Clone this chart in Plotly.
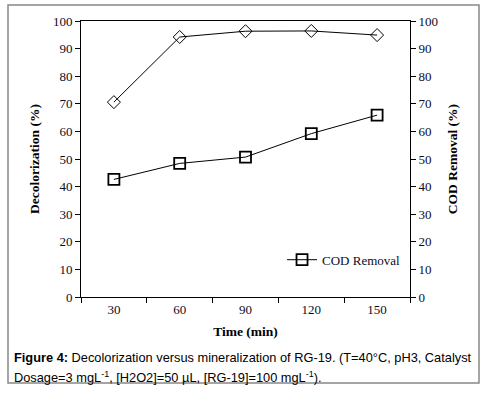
import plotly.graph_objects as go

times = ["30", "60", "90", "120", "150"]
decolorization = [70.6, 94.2, 96.3, 96.4, 94.9]
cod_removal = [42.6, 48.4, 50.7, 59.2, 65.9]
y_ticks = [0, 10, 20, 30, 40, 50, 60, 70, 80, 90, 100]

serif = "Liberation Serif, Times New Roman, serif"
ink = "#0c0c24"
tfont = dict(family=serif, size=13, color=ink)

fig = go.Figure()
fig.add_trace(go.Scatter(
    x=times, y=decolorization, mode="lines+markers", name="Decolorization",
    showlegend=False,
    line=dict(color="black", width=1),
    marker=dict(symbol="diamond-open", size=10, color="black", line=dict(width=1, color="black")),
))
fig.add_trace(go.Scatter(
    x=times, y=cod_removal, mode="lines+markers", name="COD Removal",
    line=dict(color="black", width=1),
    marker=dict(symbol="square-open", size=11, color="black", line=dict(width=1.8, color="black")),
    yaxis="y2",
))

fig.update_layout(
    width=492, height=393,
    margin=dict(l=81, r=82, t=21, b=96),
    paper_bgcolor="white", plot_bgcolor="white",
    font=tfont,
    showlegend=True,
    legend=dict(x=0.611, y=0.135, xanchor="left", yanchor="middle",
                bgcolor="rgba(0,0,0,0)", font=dict(size=13, family=serif, color=ink),
                itemwidth=30, tracegroupgap=0),
    xaxis=dict(type="category", range=[-0.5, 4.5], tickson="boundaries",
               ticks="outside", ticklen=5, tickcolor="black", tickwidth=1,
               showline=True, linecolor="black", linewidth=1, mirror=True,
               showgrid=False, zeroline=False,
               title=dict(text="<b>Time (min)</b>", standoff=10, font=dict(size=13.5, color="black")),
               tickfont=dict(size=13)),
    yaxis=dict(range=[0, 100], tickvals=y_ticks, ticks="outside", ticklen=5,
               tickcolor="black", showline=True, linecolor="black", linewidth=1,
               showgrid=False, zeroline=False,
               title=dict(text="<b>Decolorization (%)</b>", standoff=10, font=dict(size=13.5, color="black")),
               tickfont=dict(size=13)),
    yaxis2=dict(range=[0, 100], tickvals=y_ticks, ticks="outside", ticklen=5,
                tickcolor="black", showline=True, linecolor="black", linewidth=1,
                overlaying="y", side="right", showgrid=False, zeroline=False,
                title=dict(text="<b>COD Removal (%)</b>", standoff=10, font=dict(size=13.5, color="black")),
                tickfont=dict(size=13)),
)

# outer frame
fig.add_shape(type="rect", xref="paper", yref="paper",
              x0=(8 - 81) / 329, x1=(479 - 81) / 329,
              y0=(297 - 383) / 276, y1=(297 - 5) / 276,
              line=dict(color="#888888", width=1.5), fillcolor="rgba(0,0,0,0)", layer="below")

afont = dict(family="Liberation Sans, Arial, sans-serif", size=12.8, color="black")
fig.add_annotation(xref="paper", yref="paper", x=(12 - 81) / 329, y=(297 - 357) / 276,
                   xanchor="left", yanchor="middle", showarrow=False, font=afont, align="left",
                   text="<b>Figure 4:</b> Decolorization versus mineralization of RG-19. (T=40°C, pH3, Catalyst")
fig.add_annotation(xref="paper", yref="paper", x=(12 - 81) / 329, y=(297 - 377) / 276,
                   xanchor="left", yanchor="middle", showarrow=False, font=afont, align="left",
                   text="Dosage=3 mgL<sup>-1</sup>, [H2O2]=50 µL, [RG-19]=100 mgL<sup>-1</sup>).")

fig.write_html("out.html", config={"displayModeBar": False},
               post_script="document.body.style.margin='0';")
